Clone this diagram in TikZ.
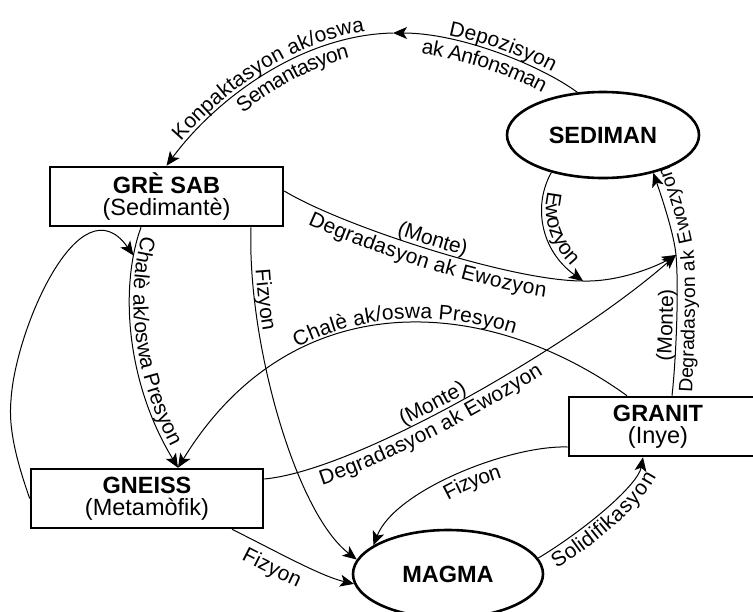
\documentclass[tikz,border=0pt]{standalone}
\usepackage{fontspec}
\setmainfont{Liberation Sans}
\usetikzlibrary{arrows.meta,shapes.geometric,decorations.text}
\newcommand\lblfont{\fontsize{21}{24}\selectfont}
\newcommand\lblsmallfont{\fontsize{19.3}{22}\selectfont}
\newcommand\nodefont{\fontsize{23.5}{22}\selectfont}
\begin{document}
\begin{tikzpicture}[x=1pt,y=-1pt,
  rockbox/.style={draw, line width=2.6pt, rectangle, minimum height=59pt, inner sep=2pt, align=center, font=\nodefont},
  rockoval/.style={draw, line width=2.6pt, ellipse, inner sep=2pt, font=\nodefont\bfseries},
  flow/.style={line width=1pt, -{Stealth[length=14pt,width=12pt,inset=3.5pt]}},
  plain/.style={line width=1pt},
  lbl/.style n args={3}{decorate, decoration={text along path, text={|\lblfont|#1}, text align={#2}, raise=#3}},
  lblsmall/.style n args={3}{decorate, decoration={text along path, text={|\lblsmallfont|#1}, text align={#2}, raise=#3}},
]
\useasboundingbox (0,0) rectangle (753,611);

% nodes
\node[rockbox, minimum width=233pt] (gre) at (166.5,196.5) {\textbf{GRÈ SAB}\\(Sedimantè)};
\node[rockoval, minimum width=192pt, minimum height=86pt] (sed) at (603,135) {SEDIMAN};
\node[rockbox, minimum width=232pt] (gne) at (147,498.5) {\textbf{GNEISS}\\(Metamòfik)};
\node[rockbox, minimum width=191pt, label={[align=center, font=\nodefont, xshift=-6.5pt]center:{\textbf{GRANIT}\\(Inye)}}] (gra) at (664.5,426.5) {};
\node[rockoval, minimum width=190pt, minimum height=88pt] (mag) at (448,574) {MAGMA};

% junctions
\coordinate (J1) at (393,33);
\coordinate (J2) at (583,281);
\coordinate (J3) at (676,255);
\coordinate (J4) at (133.4,255.4);
\coordinate (loopL) at (11,400);

% connectors
\draw[flow] (sed.121) .. controls (540,65) and (460,33) .. (J1);
\draw[flow] (J1) .. controls (300,35) and (215,100) .. (gre.north);
\draw[flow] (sed.216) .. controls (533,205) and (540,250) .. (J2);
\draw[plain] ([yshift=5.5pt]gre.east) .. controls (340,225) and (510,281) .. (J2);
\draw[flow] (J2) .. controls (620,282) and (657,266) .. (J3);
\draw[plain] ([xshift=7.5pt]gra.north) .. controls (676,360) and (679,290) .. (J3);
\draw[flow] (J3) .. controls (674,234) and (662,198) .. (sed.323);
\draw[flow] ([yshift=19.5pt]gne.east) .. controls (360,470) and (580,340) .. (J3);
\draw[flow] ([xshift=-37.5pt]gra.north) .. controls (486,294) and (292,282) .. ([xshift=31pt]gne.north);
\draw[flow] ([xshift=-25.5pt]gre.south) .. controls (120,285) and (125,380) .. ([xshift=31pt]gne.north);
\draw[flow] (gne.west) .. controls (18,465) and (8,430) .. (loopL) .. controls (15,330) and (80,180) .. (J4);
\draw[flow] ([xshift=84.5pt]gre.south) .. controls (247,340) and (295,512) .. (mag.171);
\draw[flow] ([xshift=85pt]gne.south) .. controls (270,548) and (320,576) .. (mag.186);
\draw[flow] ([yshift=-20.5pt]gra.west) .. controls (510,445) and (395,490) .. (mag.159);
\draw[flow] (mag.10) .. controls (585,530) and (638,485) .. ([xshift=-21.5pt]gra.south);

% labels
\path[lbl={Depozisyon}{left, left indent=55pt}{4pt}] (J1) .. controls (460,33) and (540,65) .. (sed.121);
\path[lbl={ak Anfonsman}{center}{-19pt}] (J1) .. controls (460,33) and (540,65) .. (sed.121);
\path[lbl={Konpaktasyon ak/oswa}{center}{4pt}] (gre.north) .. controls (215,100) and (300,35) .. (J1);
\path[lbl={Semantasyon}{left, left indent=94pt}{-19pt}] (gre.north) .. controls (215,100) and (300,35) .. (J1);
\path[lbl={Ewozyon}{center}{4pt}] (sed.216) .. controls (533,205) and (540,250) .. (J2);
\path[lbl={(Monte)}{center}{4pt}] ([yshift=5.5pt]gre.east) .. controls (340,225) and (510,281) .. (J2);
\path[lbl={Degradasyon ak Ewozyon}{center}{-19pt}] ([yshift=5.5pt]gre.east) .. controls (340,225) and (510,281) .. (J2);
\path[lbl={(Monte)}{center}{4pt}] ([xshift=7.5pt]gra.north) .. controls (676,360) and (679,290) .. (J3);
\path[lblsmall={Degradasyon ak Ewozyon}{left, left indent=18pt}{-18pt}] (673,410) .. controls (676,360) and (679,290) .. (J3) .. controls (674,234) and (662,198) .. (645,150);
\path[lbl={(Monte)}{left, left indent=150pt}{4pt}] ([yshift=19.5pt]gne.east) .. controls (360,470) and (580,340) .. (J3);
\path[lbl={Degradasyon ak Ewozyon}{left, left indent=53pt}{-19pt}] ([yshift=19.5pt]gne.east) .. controls (360,470) and (580,340) .. (J3);
\path[lbl={Chalè ak/oswa Presyon}{left, left indent=170pt}{4pt}] ([xshift=31pt]gne.north) .. controls (292,282) and (486,294) .. ([xshift=-37.5pt]gra.north);
\path[lbl={Chalè ak/oswa Presyon}{left, left indent=8pt}{4pt}] ([xshift=-25.5pt]gre.south) .. controls (120,285) and (125,380) .. ([xshift=31pt]gne.north);
\path[lbl={Fizyon}{left, left indent=43pt}{4pt}] ([xshift=84.5pt]gre.south) .. controls (247,340) and (295,512) .. (mag.171);
\path[lbl={Fizyon}{left, left indent=22pt}{-23pt}] ([xshift=85pt]gne.south) .. controls (270,548) and (320,576) .. (mag.186);
\path[lbl={Fizyon}{left, left indent=92pt}{-19pt}] (mag.159) .. controls (395,490) and (510,445) .. ([yshift=-20.5pt]gra.west);
\path[lbl={Solidifikasyon}{center}{-19pt}] (mag.10) .. controls (585,530) and (638,485) .. ([xshift=-21.5pt]gra.south);
\end{tikzpicture}
\end{document}
